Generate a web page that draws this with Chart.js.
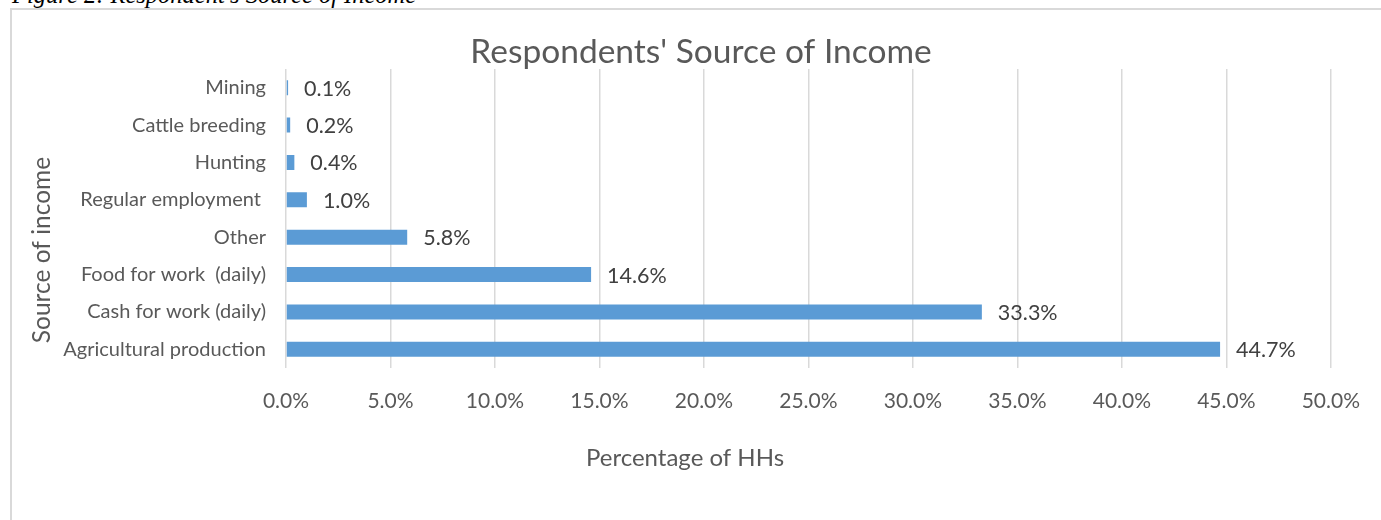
<!DOCTYPE html>
<html>
<head>
<meta charset="utf-8">
<script src="https://cdn.jsdelivr.net/npm/chart.js@4.4.1/dist/chart.umd.min.js"></script>
<style>
  html, body { margin: 0; padding: 0; background: #fff; overflow: hidden; }
  #caption {
    position: absolute; left: 12px; top: -17px;
    font: italic 24.5px "Liberation Serif", "DejaVu Serif", serif;
    line-height: 24px; color: #000; white-space: nowrap;
  }
  #frame {
    position: absolute; left: 10px; top: 8px; width: 1400px; height: 540px;
    border-left: 2px solid #d9d9d9; border-top: 2px solid #d9d9d9;
  }
  #wrap { position: absolute; left: 0; top: 0; width: 1381px; height: 520px; }
</style>
</head>
<body>
<div id="caption">Figure 2: Respondent's Source of Income</div>
<div id="frame"></div>
<div id="wrap"><canvas id="incomeChart"></canvas></div>
<script>
// dados do gráfico
const categories = [
  'Mining',
  'Cattle breeding',
  'Hunting',
  'Regular employment ',
  'Other',
  'Food for work  (daily)',
  'Cash for work (daily)',
  'Agricultural production'
];
const shares = [0.1, 0.2, 0.4, 1.0, 5.8, 14.6, 33.3, 44.7];
const axisMin = 0;
const axisMax = 50;
const axisStep = 5;

const chartTitle = "Respondents' Source of Income";
const xTitle = 'Percentage of HHs';
const yTitle = 'Source of income';

const FONT = 'Lato, "Open Sans", sans-serif';
const pct = v => Number(v).toFixed(1) + '%';

// títulos na posição do Excel
const titlesPlugin = {
  id: 'titles',
  afterDraw(chart) {
    const ctx = chart.ctx;
    ctx.save();
    ctx.fillStyle = '#595959';
    ctx.textAlign = 'center';
    ctx.textBaseline = 'middle';
    ctx.font = '33.5px ' + FONT;
    ctx.fillText(chartTitle, 701, 52);
    ctx.font = '24px ' + FONT;
    ctx.fillText(xTitle, 685, 458);
    ctx.font = '24.5px ' + FONT;
    ctx.translate(42, 250);
    ctx.rotate(-Math.PI / 2);
    ctx.fillText(yTitle, 0, 0);
    ctx.restore();
  }
};

// rótulos de valor à direita das barras
const valueLabels = {
  id: 'valueLabels',
  afterDatasetsDraw(chart) {
    const ctx = chart.ctx;
    const meta = chart.getDatasetMeta(0);
    ctx.save();
    ctx.fillStyle = '#404040';
    ctx.font = '21.5px ' + FONT;
    ctx.textAlign = 'left';
    ctx.textBaseline = 'middle';
    meta.data.forEach((bar, i) => {
      ctx.fillText(pct(shares[i]), bar.x + 16, bar.y + 1);
    });
    ctx.restore();
  }
};

new Chart(document.getElementById('incomeChart'), {
  type: 'bar',
  data: {
    labels: categories,
    datasets: [{
      data: shares,
      backgroundColor: '#5b9bd5',
      borderWidth: 0,
      barPercentage: 0.4,
      categoryPercentage: 1.0
    }]
  },
  options: {
    indexAxis: 'y',
    responsive: true,
    maintainAspectRatio: false,
    animation: false,
    layout: { padding: { left: 20, right: 47.5, top: 69, bottom: 0 } },
    plugins: {
      legend: { display: false },
      title: { display: false },
      tooltip: { enabled: false }
    },
    scales: {
      x: {
        min: axisMin,
        max: axisMax,
        afterFit: s => { s.height = 152; },
        ticks: {
          stepSize: axisStep,
          callback: v => pct(v),
          color: '#595959',
          font: { family: FONT, size: 21 },
          padding: 21,
          maxRotation: 0
        },
        grid: { color: '#d9d9d9', lineWidth: 1.5, drawTicks: false },
        border: { display: false }
      },
      y: {
        afterFit: s => { s.width = 266; },
        ticks: {
          color: '#595959',
          font: { family: FONT, size: 20 },
          padding: 20
        },
        grid: { display: false, drawTicks: false },
        border: { display: false }
      }
    }
  },
  plugins: [titlesPlugin, valueLabels]
});
</script>
</body>
</html>
